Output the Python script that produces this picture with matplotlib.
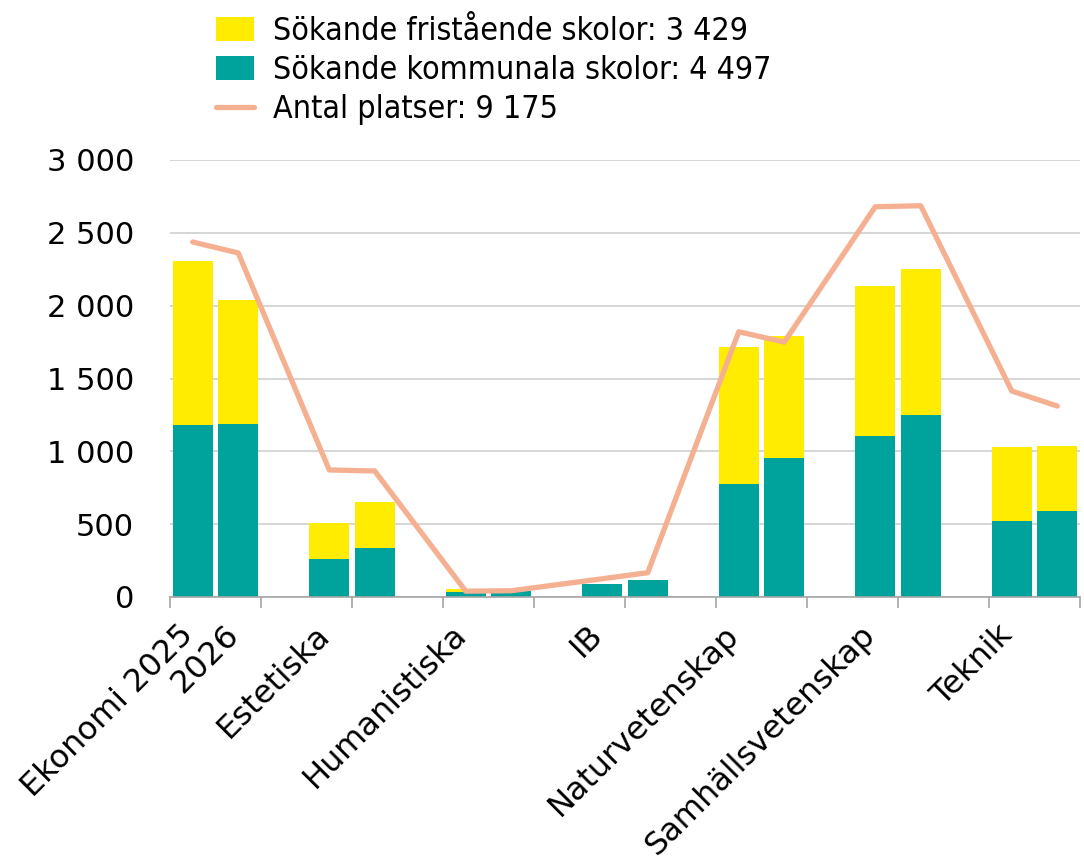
import numpy as np
import matplotlib
matplotlib.use("Agg")
import matplotlib.pyplot as plt
from matplotlib import font_manager as fm
from matplotlib.transforms import ScaledTranslation
from matplotlib.ticker import FuncFormatter, FixedLocator

programs = ["Ekonomi", "Estetiska", "Humanistiska", "IB", "Naturvetenskap",
            "Samhällsvetenskap", "Teknik"]

# 2025 / 2026 values per program
kommunala_2025 = [1181, 261, 34, 90, 776, 1105, 522]
kommunala_2026 = [1185, 335, 40, 120, 955, 1250, 590]
fristaende_2025 = [1126, 247, 21, 0, 940, 1032, 508]
fristaende_2026 = [855, 320, 0, 0, 840, 1000, 450]
platser_2025 = [2437, 872, 40, 125, 1821, 2679, 1414]
platser_2026 = [2362, 865, 43, 167, 1750, 2686, 1311]

legend_labels = ["Sökande fristående skolor: 3 429",
                 "Sökande kommunala skolor: 4 497",
                 "Antal platser: 9 175"]

yellow = "#FFEC00"
teal = "#00A39B"
salmon = "#F5B092"

plt.rcParams['font.family'] = ['DejaVu Sans']

# narrow font for the legend if one is installed
narrow = [f for f in fm.fontManager.ttflist
          if 'Narrow' in f.name or 'Condensed' in f.name
          or str(f.stretch) in ('condensed', 'semi-condensed', 'extra-condensed')]
narrow.sort(key=lambda f: (0 if 'Liberation' in f.name else 1, f.weight != 400, f.style != 'normal'))
if narrow:
    leg_prop = fm.FontProperties(fname=narrow[0].fname, size=23)
else:
    leg_prop = fm.FontProperties(family='DejaVu Sans', size=20)

fig = plt.figure(figsize=(10.84, 8.61), dpi=100)
ax = fig.add_axes([170 / 1084, 1 - 597 / 861, 910 / 1084, 437 / 861])

# each program takes three slots: 2025, 2026, empty
x25 = np.arange(len(programs)) * 3
x26 = x25 + 1
xs = np.ravel(np.column_stack([x25, x26]))
komm = np.ravel(np.column_stack([kommunala_2025, kommunala_2026]))
fri = np.ravel(np.column_stack([fristaende_2025, fristaende_2026]))
plats = np.ravel(np.column_stack([platser_2025, platser_2026]))

bw = 0.87
b1 = ax.bar(xs, fri, bw, bottom=komm, color=yellow, zorder=2)
b2 = ax.bar(xs, komm, bw, color=teal, zorder=2)
l1, = ax.plot(xs, plats, color=salmon, lw=3.8, zorder=3, solid_capstyle='round')

ax.set_xlim(-0.5, 19.5)
ax.set_ylim(0, 3000)
ax.set_yticks(np.arange(0, 3001, 500))
ax.yaxis.set_major_formatter(FuncFormatter(lambda v, p: f"{int(v):,}".replace(",", " ")))
ax.grid(axis='y', color='#d0d0d0', lw=1.2, zorder=0)
ax.set_axisbelow(True)

for s in ['left', 'right', 'top']:
    ax.spines[s].set_visible(False)
ax.spines['bottom'].set_color('#a6a6a6')
ax.spines['bottom'].set_linewidth(1.2)

label_pos = [0, 1] + list(x25[1:])
label_txt = ["Ekonomi 2025", "2026"] + programs[1:]
ax.set_xticks(label_pos)
ax.set_xticklabels(label_txt, rotation=45, ha='right', rotation_mode='anchor')
ax.xaxis.set_minor_locator(FixedLocator(np.arange(-0.5, 19.6, 2)))
ax.tick_params(axis='x', which='major', length=0, labelsize=23, pad=16)
ax.tick_params(axis='x', which='minor', length=8, color='#a6a6a6', width=1.2)
ax.tick_params(axis='y', length=0, labelsize=22, pad=26)

shift = ScaledTranslation(-15 / 100, 0, fig.dpi_scale_trans)
for t in ax.get_xticklabels():
    t.set_transform(t.get_transform() + shift)

fig.legend([b1, b2, l1], legend_labels, loc='upper left',
           bbox_to_anchor=(200 / 1084, 1.0), frameon=False, prop=leg_prop,
           handlelength=1.2, handleheight=0.75, handletextpad=0.6,
           labelspacing=0.25, borderaxespad=0.1)

fig.savefig("out.png", dpi=100)
